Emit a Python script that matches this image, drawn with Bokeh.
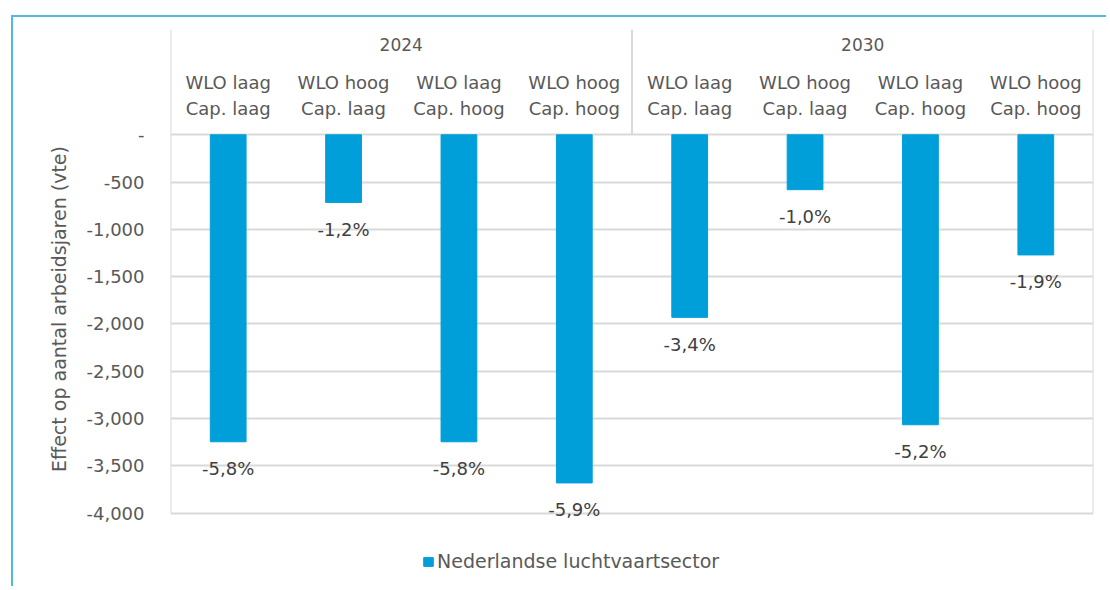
from bokeh.plotting import figure
from bokeh.models import (FixedTicker, Legend, LegendItem,
                          NumeralTickFormatter, Range1d, ColumnDataSource)
from bokeh.core.properties import value
from bokeh.embed import file_html
from bokeh.resources import INLINE

# ---------------- data ----------------
years = ["2024", "2030"]
scen_line1 = ["WLO laag", "WLO hoog", "WLO laag", "WLO hoog",
              "WLO laag", "WLO hoog", "WLO laag", "WLO hoog"]
scen_line2 = ["Cap. laag", "Cap. laag", "Cap. hoog", "Cap. hoog",
              "Cap. laag", "Cap. laag", "Cap. hoog", "Cap. hoog"]
values = [-3245, -715, -3245, -3680, -1930, -580, -3065, -1270]
pct_labels = ["-5,8%", "-1,2%", "-5,8%", "-5,9%", "-3,4%", "-1,0%", "-5,2%", "-1,9%"]
y_ticks = [0, -500, -1000, -1500, -2000, -2500, -3000, -3500, -4000]
series_name = "Nederlandse luchtvaartsector"
y_label = "Effect op aantal arbeidsjaren (vte)"

# ---------------- styling ----------------
FONT = "DejaVu Sans"
BAR = "#009fda"
GRID = "#d9d9d9"
TXT = "#595959"
LBL = "#404040"
FRAME_BLUE = "#52b9e6"

n = len(values)
per_year = n // len(years)
xs = [i + 0.5 for i in range(n)]
year_x = [k * per_year + per_year / 2 for k in range(len(years))]

HEADER_TOP = 1113
BOTTOM = -4796
YEAR_Y = 955
L1_Y = 553
L2_Y = 278
y_min = min(y_ticks)

p = figure(width=1095, height=571, output_backend="svg", toolbar_location=None,
           x_range=Range1d(0, n), y_range=Range1d(BOTTOM, HEADER_TOP),
           x_axis_location=None,
           min_border_left=157, min_border_right=15, min_border_top=12,
           min_border_bottom=0,
           margin=(15, 0, 0, 11),
           styles={"border-top": f"2px solid {FRAME_BLUE}",
                   "border-left": f"2px solid {FRAME_BLUE}"})

p.outline_line_color = None
p.xgrid.visible = False
p.ygrid.ticker = FixedTicker(ticks=y_ticks)
p.ygrid.grid_line_color = GRID
p.ygrid.grid_line_width = 2

ax = p.yaxis[0]
ax.ticker = FixedTicker(ticks=y_ticks)
ax.formatter = NumeralTickFormatter(format="0,0")
ax.major_label_overrides = {0: "-"}
ax.axis_line_color = None
ax.major_tick_line_color = None
ax.minor_tick_line_color = None
ax.major_label_standoff = 20
ax.major_label_text_font = FONT
ax.major_label_text_font_size = "18px"
ax.major_label_text_color = TXT
ax.axis_label = y_label
ax.axis_label_text_font = FONT
ax.axis_label_text_font_size = "19px"
ax.axis_label_text_font_style = "normal"
ax.axis_label_text_color = TXT
ax.axis_label_standoff = 13

# chart box: left/right borders + divider between years
box_x = [0, n] + [k * per_year for k in range(1, len(years))]
box_y0 = [y_min, y_min] + [0] * (len(years) - 1)
p.segment(x0=box_x, y0=box_y0, x1=box_x, y1=[HEADER_TOP] * len(box_x),
          line_color=GRID, line_width=2)

src = ColumnDataSource(dict(x=xs, v=values, pct=pct_labels,
                            l1=scen_line1, l2=scen_line2))

bars = p.vbar(x="x", top=0, bottom="v", width=0.31, source=src,
              fill_color=BAR, line_color=BAR)

p.text(x="x", y="v", text="pct", source=src, y_offset=27,
       text_align="center", text_baseline="middle",
       text_font=value(FONT), text_font_size="18px", text_color=LBL)

# header
p.text(x=year_x, y=[YEAR_Y] * len(years), text=years,
       text_align="center", text_baseline="middle",
       text_font=value(FONT), text_font_size="17px", text_color=TXT)
p.text(x="x", y=L1_Y, text="l1", source=src,
       text_align="center", text_baseline="middle",
       text_font=value(FONT), text_font_size="18px", text_color=TXT)
p.text(x="x", y=L2_Y, text="l2", source=src,
       text_align="center", text_baseline="middle",
       text_font=value(FONT), text_font_size="18px", text_color=TXT)

legend = Legend(items=[LegendItem(label=series_name, renderers=[bars])],
                location=(252, 16), orientation="horizontal",
                border_line_color=None, background_fill_alpha=0,
                padding=0, margin=0, spacing=0, label_standoff=3,
                glyph_width=12, glyph_height=11,
                label_text_font=FONT, label_text_font_size="19px",
                label_text_color=TXT)
p.add_layout(legend, "center")

open("out.html", "w").write(file_html(p, INLINE))
